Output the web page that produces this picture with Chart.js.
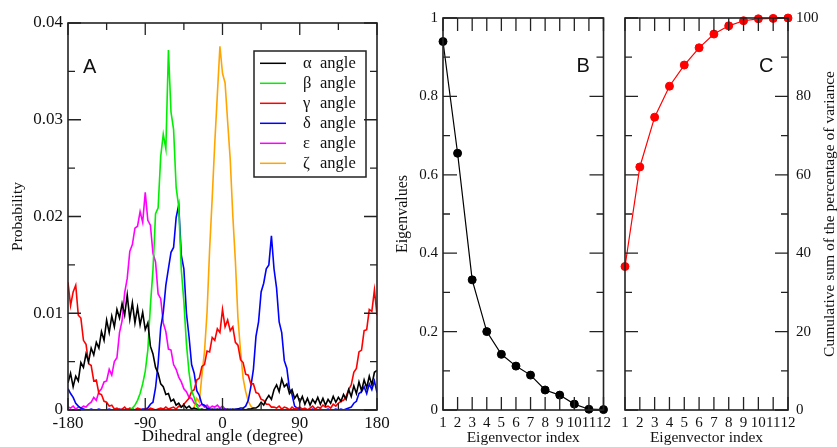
<!DOCTYPE html>
<html><head><meta charset="utf-8">
<script src="https://cdn.jsdelivr.net/npm/chart.js@4/dist/chart.umd.min.js"></script>
<style>
html,body{margin:0;padding:0;background:#fff;width:837px;height:447px;overflow:hidden;position:relative}
canvas{position:absolute;top:0}
</style></head><body>
<canvas id="cA" width="400" height="447" style="left:0;width:400px;height:447px"></canvas>
<canvas id="cB" width="225" height="447" style="left:390px;width:225px;height:447px"></canvas>
<canvas id="cC" width="222" height="447" style="left:615px;width:222px;height:447px"></canvas>
<script>
// ---------- Panel A data ----------
const angles = [
-180,-177,-174,-171,-168,-165,-162,-159,-156,-153,
-150,-147,-144,-141,-138,-135,-132,-129,-126,-123,
-120,-117,-114,-111,-108,-105,-102,-99,-96,-93,
-90,-87,-84,-81,-78,-75,-72,-69,-66,-63,
-60,-57,-54,-51,-48,-45,-42,-39,-36,-33,
-30,-27,-24,-21,-18,-15,-12,-9,-6,-3,
0,3,6,9,12,15,18,21,24,27,
30,33,36,39,42,45,48,51,54,57,
60,63,66,69,72,75,78,81,84,87,
90,93,96,99,102,105,108,111,114,117,
120,123,126,129,132,135,138,141,144,147,
150,153,156,159,162,165,168,171,174,177,
180];
const alphaProb = [
.0028,.0038,.0024,.0035,.0030,.0049,.0044,.0058,.0050,.0064,
.0057,.0070,.0064,.0081,.0072,.0093,.0080,.0097,.0086,.0104,
.0095,.0110,.0098,.0119,.0094,.0111,.0090,.0106,.0088,.0101,
.0083,.0090,.0066,.0058,.0044,.0038,.0027,.0024,.0016,.0017,
.0009,.0011,.0005,.0007,.0003,.0005,.0002,.0004,.0001,.0002,
.0001,0,.0001,0,.0001,0,.0001,0,.0001,0,
.0001,0,.0001,0,.0001,0,.0001,0,.0001,0,
.0001,.0001,.0002,.0002,.0004,.0008,.0005,.0011,.0015,.0011,
.0021,.0026,.0019,.0032,.0024,.0027,.0017,.0021,.0012,.0016,
.0008,.0014,.0006,.0012,.0005,.0011,.0007,.0013,.0006,.0012,
.0005,.0011,.0007,.0014,.0008,.0013,.0009,.0016,.0011,.0021,
.0014,.0025,.0017,.0029,.0020,.0031,.0023,.0035,.0026,.0039,
.0041];
const betaProb = [
0,0,0,0,0,0,0,0,0,0,
0,0,0,0,0,0,0,0,0,0,
0,0,0,0,0,.0002,.0005,.0010,.0017,.0027,
.0040,.0062,.0108,.0145,.0203,.0209,.0262,.0285,.0270,.0372,
.0308,.0290,.0230,.0210,.0145,.0112,.0068,.0039,.0020,.0013,
.0004,.0001,0,0,0,0,0,0,0,0,
0,0,0,0,0,0,0,0,0,0,
0,0,0,0,0,0,0,0,0,0,
0,0,0,0,0,0,0,0,0,0,
0,0,0,0,0,0,0,0,0,0,
0,0,0,0,0,0,0,0,0,0,
0,0,0,0,0,0,0,0,0,0,
0];
const gammaProb = [
.0132,.0108,.0122,.0129,.0098,.0095,.0072,.0068,.0048,.0046,
.0030,.0031,.0017,.0016,.0009,.0008,.0004,.0005,.0001,.0002,
0,.0001,.0003,0,.0002,.0001,0,.0002,.0001,0,
.0001,0,.0002,.0001,0,.0001,.0002,.0001,.0003,.0001,
.0002,.0003,.0001,.0004,.0003,.0006,.0009,.0012,.0019,.0021,
.0031,.0033,.0045,.0047,.0061,.0060,.0075,.0072,.0084,.0080,
.0104,.0086,.0093,.0082,.0086,.0070,.0067,.0052,.0049,.0037,
.0036,.0027,.0027,.0018,.0017,.0011,.0010,.0006,.0006,.0003,
.0003,.0002,.0004,.0001,.0003,.0002,0,.0003,.0001,.0002,
.0003,.0001,.0002,0,.0002,.0004,.0001,.0003,.0002,.0005,
.0003,.0004,.0002,.0006,.0004,.0007,.0009,.0010,.0014,.0021,
.0026,.0039,.0043,.0060,.0062,.0082,.0083,.0104,.0102,.0124,
.0098];
const deltaProb = [
.0022,.0017,.0013,.0007,.0004,.0002,.0001,0,0,.0001,
0,0,.0001,0,0,0,.0001,0,0,0,
.0001,0,0,.0001,0,.0001,0,.0001,0,.0001,
.0001,.0002,.0006,.0008,.0023,.0048,.0085,.0101,.0129,.0146,
.0163,.0168,.0199,.0212,.0160,.0146,.0100,.0076,.0047,.0038,
.0020,.0015,.0006,.0005,.0002,.0001,0,.0001,0,.0001,
0,.0001,0,.0001,0,.0001,.0001,.0002,.0002,.0004,
.0010,.0024,.0042,.0076,.0091,.0122,.0131,.0146,.0150,.0180,
.0146,.0126,.0091,.0080,.0051,.0043,.0022,.0016,.0004,.0002,
.0001,0,.0001,0,0,.0001,0,0,.0001,0,
0,.0001,0,0,.0001,0,.0001,0,.0001,.0002,
.0003,.0007,.0009,.0017,.0019,.0024,.0017,.0027,.0021,.0030,
.0018];
const epsilonProb = [
.0003,.0002,.0004,.0001,.0003,.0002,.0004,.0003,.0006,.0008,
.0013,.0010,.0019,.0022,.0029,.0030,.0042,.0036,.0050,.0054,
.0080,.0092,.0121,.0136,.0164,.0171,.0188,.0190,.0205,.0194,
.0225,.0196,.0191,.0162,.0153,.0120,.0115,.0090,.0081,.0063,
.0062,.0047,.0042,.0034,.0029,.0022,.0019,.0013,.0012,.0007,
.0006,.0004,.0006,.0003,.0005,.0002,.0004,.0003,.0005,.0002,
.0004,.0001,0,0,0,0,0,0,0,0,
0,0,0,0,0,0,0,0,0,0,
0,0,0,0,0,0,0,0,0,0,
0,0,0,0,0,0,0,0,0,0,
0,0,0,0,0,0,0,0,0,0,
0,0,0,0,0,0,0,0,0,0,
0];
const zetaProb = [
0,0,0,0,0,0,0,0,0,0,
0,0,0,0,0,0,0,0,0,0,
0,0,0,0,0,0,0,0,0,0,
0,0,0,0,0,0,0,0,0,0,
0,0,0,0,0,0,0,0,0,.0003,
.0012,.0008,.0036,.0060,.0101,.0166,.0219,.0276,.0326,.0376,
.0348,.0338,.0298,.0259,.0201,.0154,.0095,.0061,.0033,.0019,
.0009,.0004,.0001,0,0,0,0,0,0,0,
0,0,0,0,0,0,0,0,0,0,
0,0,0,0,0,0,0,0,0,0,
0,0,0,0,0,0,0,0,0,0,
0,0,0,0,0,0,0,0,0,0,
0];
const seriesLabels = ['α angle','β angle','γ angle','δ angle','ε angle','ζ angle'];
const seriesColors = ['#000000','#00ee00','#ff0000','#0000ff','#ff00ff','#ffa500'];
const seriesValues = [alphaProb, betaProb, gammaProb, deltaProb, epsilonProb, zetaProb];
const angleTicks = [-180,-90,0,90,180];
const angleMinor = [-135,-45,45,135];
const probTicks = [0,0.01,0.02,0.03,0.04];
const probMinor = [0.005,0.015,0.025,0.035];

// ---------- Panel B / C data ----------
const eigIndex = [1,2,3,4,5,6,7,8,9,10,11,12];
const eigenvalues = [0.940,0.655,0.332,0.200,0.142,0.112,0.089,0.051,0.038,0.015,0.002,0.001];
const cumVariance = [36.6,62.0,74.7,82.6,88.0,92.4,95.9,98.0,99.3,99.8,99.9,100];
const eigTicks = [0,0.2,0.4,0.6,0.8,1];
const eigMinor = [0.1,0.3,0.5,0.7,0.9];
const cumTicks = [0,20,40,60,80,100];
const cumMinor = [10,30,50,70,90];

Chart.defaults.font.family = '"Liberation Serif","Times New Roman",serif';
Chart.defaults.color = '#111';

const frameTicks = {
  id: 'frameTicks',
  afterDatasetsDraw(chart, args, o) {
    const {ctx, chartArea: a} = chart;
    const x = chart.scales.x, y = chart.scales.y;
    ctx.save();
    ctx.strokeStyle = '#222'; ctx.lineWidth = 1.3;
    ctx.beginPath();
    const seg = (px, py, dx, dy) => { ctx.moveTo(px, py); ctx.lineTo(px + dx, py + dy); };
    (o.xMajor || []).forEach(v => { const p = x.getPixelForValue(v); seg(p, a.bottom, 0, -o.xMajorLen); seg(p, a.top, 0, o.xMajorLen); });
    (o.xMinor || []).forEach(v => { const p = x.getPixelForValue(v); seg(p, a.bottom, 0, -o.xMinorLen); seg(p, a.top, 0, o.xMinorLen); });
    (o.yMajor || []).forEach(v => { const p = y.getPixelForValue(v); seg(a.left, p, o.yMajorLen, 0); seg(a.right, p, -o.yMajorLen, 0); });
    (o.yMinor || []).forEach(v => { const p = y.getPixelForValue(v); seg(a.left, p, o.yMinorLen, 0); seg(a.right, p, -o.yMinorLen, 0); });
    ctx.stroke();
    ctx.lineWidth = 1.6;
    ctx.strokeRect(a.left, a.top, a.right - a.left, a.bottom - a.top);
    ctx.restore();
  }
};

const seriesLegend = {
  id: 'seriesLegend',
  afterDatasetsDraw(chart, args, o) {
    const {ctx, chartArea: a} = chart;
    const x0 = a.left + o.left, y0 = a.top + o.top;
    ctx.save();
    ctx.fillStyle = '#fff'; ctx.fillRect(x0, y0, o.width, o.height);
    ctx.strokeStyle = '#222'; ctx.lineWidth = 1.5; ctx.strokeRect(x0, y0, o.width, o.height);
    ctx.font = o.fontSize + 'px "Liberation Serif"';
    ctx.textBaseline = 'middle'; ctx.textAlign = 'left';
    chart.data.datasets.forEach((d, i) => {
      const yy = y0 + o.firstRow + i * o.rowGap;
      ctx.strokeStyle = d.borderColor; ctx.lineWidth = 1.5;
      ctx.beginPath(); ctx.moveTo(x0 + 6, yy); ctx.lineTo(x0 + 32, yy); ctx.stroke();
      const parts = d.label.split(' ');
      ctx.fillStyle = '#111';
      ctx.fillText(parts[0], x0 + 49, yy);
      ctx.fillText(parts[1], x0 + 66, yy);
    });
    ctx.restore();
  }
};

const panelLabel = {
  id: 'panelLabel',
  afterDatasetsDraw(chart, args, o) {
    const {ctx, chartArea: a} = chart;
    ctx.save();
    ctx.font = o.size + 'px "Liberation Sans"';
    ctx.fillStyle = '#111'; ctx.textAlign = 'left'; ctx.textBaseline = 'alphabetic';
    const xx = o.fromRight ? a.right - o.dx : a.left + o.dx;
    ctx.fillText(o.text, xx, a.top + o.dy);
    ctx.restore();
  }
};

const sideTitle = {
  id: 'sideTitle',
  afterDraw(chart, args, o) {
    if (!o || !o.text) return;
    const {ctx, chartArea: a} = chart;
    ctx.save();
    ctx.translate(a.right + o.dx, (a.top + a.bottom) / 2);
    ctx.rotate(-Math.PI / 2);
    ctx.font = o.size + 'px "Liberation Serif"';
    ctx.fillStyle = '#111'; ctx.textAlign = 'center'; ctx.textBaseline = 'middle';
    ctx.fillText(o.text, 0, 0);
    ctx.restore();
  }
};

const setTicks = arr => s => { s.ticks = arr.map(v => ({value: v})); };
const noGrid = {display: false, drawTicks: false};
const noBorder = {display: false};

// ---------- Chart A ----------
new Chart(document.getElementById('cA'), {
  type: 'line',
  data: {
    datasets: seriesValues.map((vals, i) => ({
      label: seriesLabels[i],
      data: angles.map((ang, j) => ({x: ang, y: vals[j]})),
      borderColor: seriesColors[i],
      backgroundColor: seriesColors[i],
      borderWidth: 1.6, pointRadius: 0, tension: 0, fill: false
    }))
  },
  options: {
    responsive: false, animation: false, devicePixelRatio: 1,
    layout: {padding: {top: 23, right: 23, left: 0, bottom: 0}},
    plugins: {
      legend: {display: false}, tooltip: {enabled: false},
      frameTicks: {xMajor: angleTicks, xMinor: angleMinor, yMajor: probTicks, yMinor: probMinor,
                   xMajorLen: 12, xMinorLen: 7, yMajorLen: 13, yMinorLen: 7},
      seriesLegend: {left: 186, top: 28, width: 112, height: 126, firstRow: 12.3, rowGap: 20, fontSize: 16.5},
      panelLabel: {text: 'A', dx: 15, dy: 50, size: 20}
    },
    scales: {
      x: {type: 'linear', min: -180, max: 180,
          afterBuildTicks: setTicks(angleTicks), afterFit: s => { s.height = 37; },
          grid: noGrid, border: noBorder,
          ticks: {padding: 3, font: {size: 17}, color: '#111', maxRotation: 0, callback: v => String(v)},
          title: {display: true, text: 'Dihedral angle (degree)', font: {size: 17}, color: '#111', padding: 0}},
      y: {type: 'linear', min: 0, max: 0.04,
          afterBuildTicks: setTicks(probTicks), afterFit: s => { s.width = 68; },
          grid: noGrid, border: noBorder,
          ticks: {padding: 5, font: {size: 17}, color: '#111', callback: v => v === 0 ? '0' : v.toFixed(2)},
          title: {display: true, text: 'Probability', font: {size: 15.5}, color: '#111', padding: {top: 9, bottom: 0}}}
    }
  },
  plugins: [seriesLegend, frameTicks, panelLabel]
});

// ---------- Chart B ----------
new Chart(document.getElementById('cB'), {
  type: 'line',
  data: {
    datasets: [{
      label: 'Eigenvalues',
      data: eigIndex.map((k, i) => ({x: k, y: eigenvalues[i]})),
      borderColor: '#000', backgroundColor: '#000',
      borderWidth: 1.2, pointRadius: 4, pointBorderWidth: 1, tension: 0, clip: false
    }]
  },
  options: {
    responsive: false, animation: false, devicePixelRatio: 1,
    layout: {padding: {top: 18, right: 9, left: 0, bottom: 0}},
    plugins: {
      legend: {display: false}, tooltip: {enabled: false},
      frameTicks: {xMajor: eigIndex, xMinor: [], yMajor: eigTicks, yMinor: eigMinor,
                   xMajorLen: 13, xMinorLen: 7, yMajorLen: 14, yMinorLen: 7},
      panelLabel: {text: 'B', dx: 27, dy: 54, size: 20, fromRight: true}
    },
    scales: {
      x: {type: 'linear', min: 1, max: 12,
          afterBuildTicks: setTicks(eigIndex), afterFit: s => { s.height = 37; },
          grid: noGrid, border: noBorder,
          ticks: {padding: 4, font: {size: 15}, color: '#111', maxRotation: 0, autoSkip: false, callback: v => String(v)},
          title: {display: true, text: 'Eigenvector index', font: {size: 15.5}, color: '#111', padding: 0}},
      y: {type: 'linear', min: 0, max: 1,
          afterBuildTicks: setTicks(eigTicks), afterFit: s => { s.width = 53; },
          grid: noGrid, border: noBorder,
          ticks: {padding: 5, font: {size: 15}, color: '#111', callback: v => String(v)},
          title: {display: true, text: 'Eigenvalues', font: {size: 16}, color: '#111', padding: {top: 3, bottom: 0}}}
    }
  },
  plugins: [frameTicks, panelLabel]
});

// ---------- Chart C ----------
new Chart(document.getElementById('cC'), {
  type: 'line',
  data: {
    datasets: [{
      label: 'Cumulative sum of the percentage of variance',
      data: eigIndex.map((k, i) => ({x: k, y: cumVariance[i]})),
      borderColor: '#ff0000', backgroundColor: '#ff0000',
      borderWidth: 1.2, pointRadius: 4, pointBorderWidth: 1, tension: 0, clip: false
    }]
  },
  options: {
    responsive: false, animation: false, devicePixelRatio: 1,
    layout: {padding: {top: 18, right: 0, left: 10, bottom: 0}},
    plugins: {
      legend: {display: false}, tooltip: {enabled: false},
      frameTicks: {xMajor: eigIndex, xMinor: [], yMajor: cumTicks, yMinor: cumMinor,
                   xMajorLen: 13, xMinorLen: 7, yMajorLen: 13, yMinorLen: 7},
      panelLabel: {text: 'C', dx: 29, dy: 54, size: 20, fromRight: true},
      sideTitle: {text: 'Cumulative sum of the percentage of variance', dx: 42, size: 15.5}
    },
    scales: {
      x: {type: 'linear', min: 1, max: 12,
          afterBuildTicks: setTicks(eigIndex), afterFit: s => { s.height = 37; },
          grid: noGrid, border: noBorder,
          ticks: {padding: 4, font: {size: 15}, color: '#111', maxRotation: 0, autoSkip: false, callback: v => String(v)},
          title: {display: true, text: 'Eigenvector index', font: {size: 15.5}, color: '#111', padding: 0}},
      y: {type: 'linear', position: 'right', min: 0, max: 100,
          afterBuildTicks: setTicks(cumTicks), afterFit: s => { s.width = 49; },
          grid: noGrid, border: noBorder,
          ticks: {padding: 8, font: {size: 15}, color: '#111', callback: v => String(v)}}
    }
  },
  plugins: [frameTicks, panelLabel, sideTitle]
});
</script>
</body></html>
